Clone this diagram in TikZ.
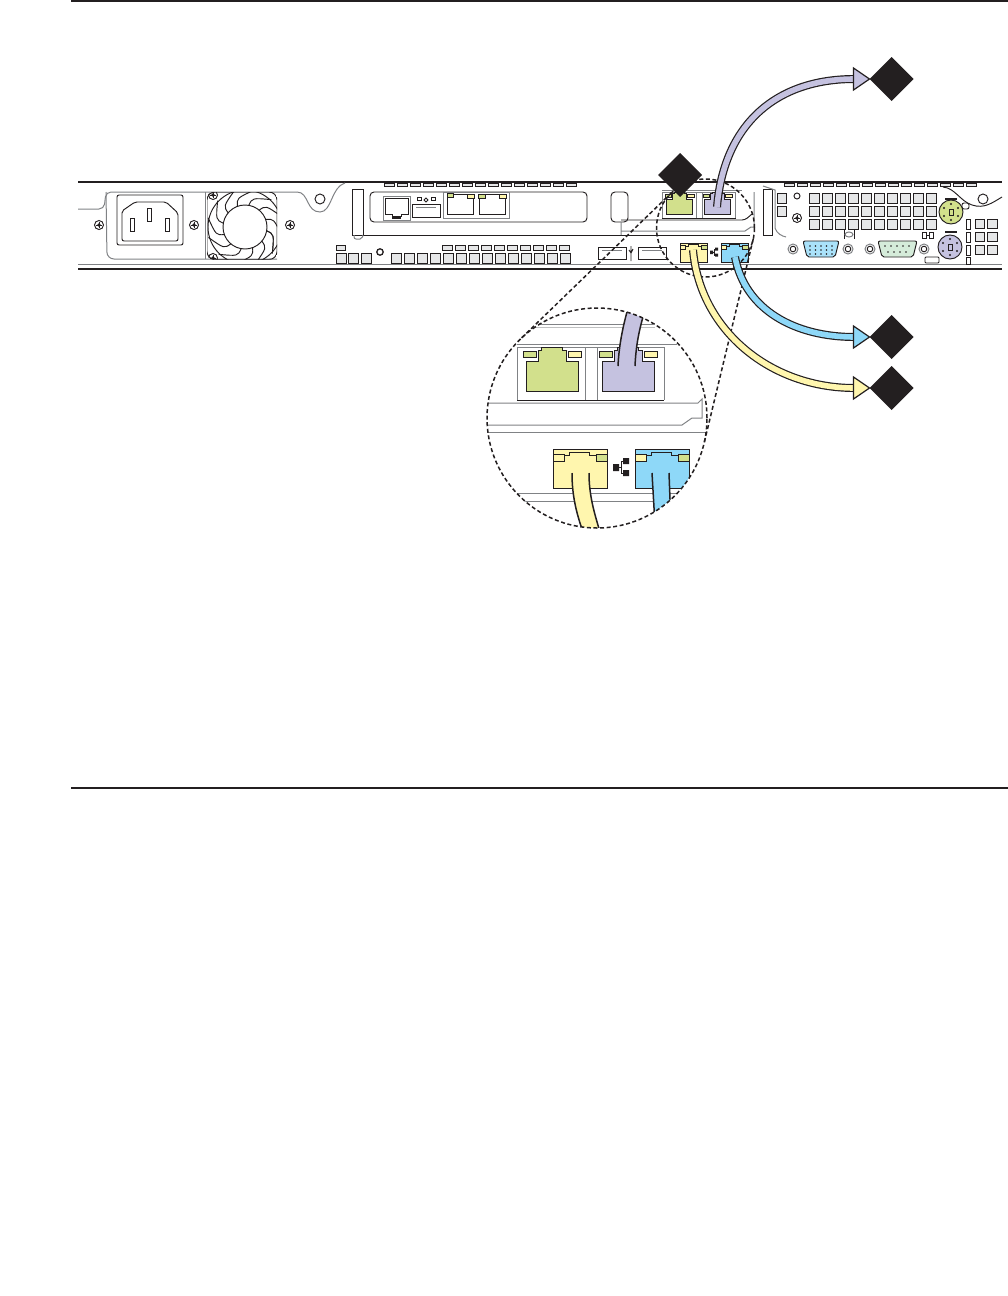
\documentclass[tikz,border=0pt]{standalone}
\usepackage{tikz}
\usetikzlibrary{shapes.geometric,arrows.meta,positioning,calc}

\definecolor{inkblack}{HTML}{231F20}
\definecolor{ventgray}{HTML}{E6E7E8}
\definecolor{edgegray}{HTML}{808285}
\definecolor{portgreen}{HTML}{D2E08C}
\definecolor{portpurple}{HTML}{C5C2E0}
\definecolor{portyellow}{HTML}{FFF6AE}
\definecolor{portblue}{HTML}{8ED8F8}

\tikzset{
  inkline/.style={draw=inkblack,line width=.95pt},
  greyline/.style={draw=edgegray,line width=1pt},
  vent/.style={draw=inkblack,fill=ventgray,line width=.95pt},
  flag/.style={diamond,fill=inkblack,inner sep=0pt,outer sep=0pt,aspect=1,minimum width=44pt,minimum height=44pt},
  lens/.style={circle,draw=inkblack,dash pattern=on 4pt off 2.6pt,line width=1.5pt,inner sep=0pt,outer sep=0pt},
  lensline/.style={draw=inkblack,dash pattern=on 4pt off 2.6pt,line width=1.5pt},
  cable/.style={draw=inkblack,line width=1.2pt,double=#1,double distance=5.6pt},
  cablehead/.style={draw=inkblack,fill=#1,line width=1.2pt,line join=miter},
  led/.style={draw=inkblack,fill=#1,line width=.8pt}
}

% one screw of the chassis
\newcommand{\chassisscrew}[2]{
  \draw[inkline] (#1,#2) circle (4.5);
  \fill[inkblack] (#1,#2) circle (1.8);
  \draw[inkblack,line width=.5pt] (#1-3.2,#2) -- (#1+3.2,#2) (#1,#2-3.2) -- (#1,#2+3.2);
}
% jack post beside a d-sub
\newcommand{\jackpost}[2]{
  \draw[greyline] (#1,#2) circle (5);
  \draw[inkline] (#1,#2) circle (2.8);
}
% upper port, left edge at #1
\newcommand{\upperport}[2]{
  \draw[inkline,fill=#2] (#1,391) -- (#1,361) -- (#1+12,361) -- (#1+12,350) -- (#1+15,350) -- (#1+15,347)
    -- (#1+36,347) -- (#1+36,350) -- (#1+40,350) -- (#1+40,361) -- (#1+52,361) -- (#1+52,391) -- cycle;
  \draw[led=portgreen] (#1-3,351) rectangle (#1+10,357);
  \draw[led=portyellow] (#1+42,351) rectangle (#1+55,357);
}
% lower port, left edge at #1
\newcommand{\lowerport}[2]{
  \draw[inkline,fill=#2] (#1,449) rectangle (#1+54,488);
  \draw[inkline] (#1,455) -- (#1+16,455) -- (#1+16,452) -- (#1+36,452) -- (#1+36,455) -- (#1+54,455);
  \draw[led=portyellow] (#1,454) rectangle (#1+11,461);
  \draw[led=portgreen] (#1+43,454) rectangle (#1+54,461);
}
% everything the lens enlarges, at the enlarged size
\newcommand{\portgroup}{
  \draw[greyline] (517,347) -- (517,400) (585,347) -- (585,400) (597,347) -- (597,400) (664,347) -- (664,400);
  \draw[greyline] (517,344) -- (677,344) (517,347) -- (664,347);
  \draw[inkline] (517,400) -- (664,400);
  \upperport{526}{portgreen}
  \upperport{602}{portpurple}
  \lowerport{553}{portyellow}
  \lowerport{635}{portblue}
  \fill[inkblack] (613,464) rectangle (619,471) (623,458) rectangle (629,464) (623,470) rectangle (629,476);
  \draw[inkblack,line width=.7pt] (619,467) -- (621,467) (623,461) -- (621,461) -- (621,473) -- (623,473);
}

\begin{document}
\begin{tikzpicture}[x=1pt,y=-1pt]
  \useasboundingbox (0,0) rectangle (1008,1296);

  % page rules
  \draw[inkblack,line width=1.6pt] (71,.8) -- (1008,.8);
  \draw[inkblack,line width=1.6pt] (71,788) -- (1008,788);

  % chassis edges
  \draw[inkblack,line width=2pt] (78,182) -- (1002,182);
  \draw[inkblack,line width=2pt] (78,269) -- (1002,269);
  \draw[greyline] (78,264) -- (1002,264);
  \draw[inkline] (362,235) -- (750,235);

  % power supply
  \draw[greyline,rounded corners=5] (78,209) -- (104,209) -- (106,192) -- (297,192);
  \draw[greyline] (297,192) .. controls (309,192) and (306,212) .. (320,212) .. controls (332,212) and (331,187) .. (345,183);
  \draw[greyline,rounded corners=7] (106,192) -- (107,259) -- (277,259);
  \draw[inkline] (320,199) circle (5);
  \draw[inkline,rounded corners=2] (117,195) rectangle (183,245);
  \draw[inkline,rounded corners=2] (122,211) -- (135,202) -- (166,202) -- (178,213) -- (178,241) -- (122,241) -- cycle;
  \draw[inkline] (130,218) rectangle (134,231) (147,208) rectangle (151,221) (165,218) rectangle (169,231);
  \foreach \sx in {99,194,290} {\chassisscrew{\sx}{225}}

  % fan
  \draw[greyline] (205,192) -- (205,259);
  \node[circle,inkline,fill=white,minimum size=44pt,inner sep=0pt] (fanhub) at (245,227) {};
  \begin{scope}
    \clip[rounded corners=6] (207,192) rectangle (277,259.5);
    \draw[inkline,rounded corners=8] (207,192) rectangle (277,259.5);
    \draw[inkline] (fanhub.center) circle (37);
    \foreach \a in {10,40,...,370} {
      \draw[inkline] ([shift={(\a:22)}]fanhub.center) .. controls ([shift={(\a+4:30)}]fanhub.center) .. ([shift={(\a+34:38)}]fanhub.center);
    }
    \chassisscrew{213}{195}
    \chassisscrew{213}{258}
  \end{scope}

  % left vents
  \draw[inkline,line width=1.3pt] (380,252) circle (3.2);
  \draw[vent] (336,245) rectangle (345,250);
  \foreach \vx in {336,348,361} {\draw[vent] (\vx,253) rectangle +(10,10);}
  \foreach \i in {0,...,13} {\draw[vent] (391+\i*13,253) rectangle +(10,10);}
  \foreach \i in {0,...,9} {\draw[vent] (442+\i*13,245) rectangle +(10,5);}
  \foreach \i in {0,...,14} {
    \draw[vent] (384+\i*13,183) rectangle +(10,3.5);
    \draw[vent] (784+\i*13,183) rectangle +(10,3.5);
  }

  % brackets
  \draw[inkline] (352,189) rectangle (363,235);
  \draw[greyline,rounded corners=2] (354,235) -- (354,239) -- (362,239) -- (363,235);
  \draw[inkline,fill=white] (763,189) rectangle (772,235);
  \draw[greyline] (763,186) -- (775,190) -- (775,228) .. controls (777,234) and (782,236) .. (786,237);
  \draw[vent] (777,193) rectangle (786,203) (777,206) rectangle (786,216);

  % riser card
  \draw[inkline,rounded corners=4] (370,192) rectangle (587,222);
  \draw[greyline,fill=white] (383,196) rectangle (410,220);
  \draw[inkline] (385,198) -- (408,198) -- (408,214) -- (401,214) -- (401,216) -- (392,216) -- (392,214) -- (385,214) -- cycle;
  \draw[inkblack,line width=1.2pt] (392,218) -- (401,218);
  \draw[inkline] (417,197) rectangle (421,200) (431,197) rectangle (435,200);
  \draw[inkline] (426,198) -- (428,200) -- (426,202) -- (424,200) -- cycle;
  \draw[inkline] (412,217) rectangle (440,204);
  \draw[greyline] (416,207) -- (436,207);
  \draw[greyline] (443,192) rectangle (509,218);
  \draw[inkline] (447,194) rectangle (473,214) (479,194) rectangle (505,214);
  \draw[led=portgreen] (447,193) rectangle (453,197);
  \draw[led=portyellow] (467,194) rectangle (474,198);
  \draw[led=portgreen] (478,194) rectangle (485,198);
  \draw[led=portyellow] (499,194) rectangle (506,198);

  % small card and its edge
  \draw[inkline,rounded corners=4] (628,192) -- (611,192) -- (611,222) -- (628,222) -- cycle;
  \draw[greyline] (621,222) -- (621,235) (621,231) -- (745,231) -- (751,227) -- (754,227) -- (754,192);
  \draw[inkline,rounded corners=3] (621,220) -- (745,220) -- (752,214);

  % usb
  \draw[inkline] (598,247) rectangle (626,259) (638,247) rectangle (666,259);
  \draw[greyline] (602,250) -- (622,250) (642,250) -- (662,250);
  \draw[inkline] (631,246) -- (631,261) (629,250) -- (631,253) -- (633,249);

  % ports at their true size
  \begin{scope}[shift={(403.5,18.5)},x=.5pt,y=-.5pt]
    \portgroup
  \end{scope}

  % right vents
  \draw[inkline] (797,196) circle (3);
  \chassisscrew{797}{218}
  \foreach \r in {193,206,219} {
    \foreach \i in {0,...,9} {\draw[vent] (809+\i*13,\r) rectangle +(10,10);}
  }
  \foreach \r in {219,232,245} {
    \draw[vent] (975,\r) rectangle +(9,9.5);
    \draw[vent] (987,\r) rectangle +(10,9.5);
  }
  \foreach \r in {219,232,245,257} {\draw[inkline] (966,\r) rectangle +(4,\ifnum\r=257 7\else 10\fi);}
  \draw[inkline] (943,187) .. controls (955,188) and (960,201) .. (972,205) .. controls (984,209) and (992,203) .. (1002,197);
  \draw[inkline] (983,199) circle (5);

  % d-sub connectors
  \draw[inkline,fill=portblue!75,rounded corners=2] (803,241) -- (839,241) -- (835,257) -- (807,257) -- cycle;
  \draw[inkline,fill=portblue!45!portgreen!55,rounded corners=2] (878,241) -- (917,241) -- (913,257) -- (882,257) -- cycle;
  \foreach \i in {0,...,4} {
    \fill[inkblack] (810+\i*5.5,246) circle (.8) (810+\i*5.5,250) circle (.8) (810+\i*5.5,254) circle (.8);
    \fill[inkblack] (885+\i*6,246) circle (.9);
  }
  \foreach \i in {0,...,3} {\fill[inkblack] (888+\i*6,252) circle (.9);}
  \foreach \sx in {793,848,870,924} {\jackpost{\sx}{249}}
  \draw[inkline] (844,230) -- (844,239) (854,230) -- (854,239);
  \draw[greyline] (849,234.5) ellipse (4 and 2.5);
  \draw[inkline] (922,232) rectangle (926,238) (929,232) rectangle (933,238);
  \draw[inkline] (926,235) -- (929,235);
  \draw[inkline,rounded corners=1] (925,257) rectangle (939,263);

  % ps/2 connectors
  \node[circle,inkline,fill=portgreen,minimum size=24pt,inner sep=0pt] (kbport) at (951,212) {};
  \node[circle,inkline,fill=portpurple,minimum size=24pt,inner sep=0pt] (mouseport) at (950,247) {};
  \foreach \a in {0,60,...,300} {
    \fill[inkblack] ([shift={(\a+30:8)}]kbport.center) circle (1.1);
    \fill[inkblack] ([shift={(\a+30:8)}]mouseport.center) circle (1.1);
  }
  \draw[inkline] (949,209) rectangle (953,215) (948,244) rectangle (952,250);
  \draw[inkblack,line width=1.4pt] (945,199) -- (957,199) (945,232) -- (957,232);
  \draw[inkline,rounded corners=2] (962,203) rectangle (969,209);

  % enlarged view
  \node[circle,fill=white,minimum size=220pt,inner sep=0pt,outer sep=0pt] (lensfill) at (597,418) {};
  \begin{scope}
    \clip (597,418) circle (110);
    \draw[greyline] (480,324) -- (653,324);
    \draw[greyline,draw opacity=.5] (480,327) -- (655,327);
    \portgroup
    \draw[greyline] (480,403) -- (698,403) -- (702,399) -- (702,418) -- (692,418) -- (682,425) -- (480,425);
    \draw[greyline] (480,432) -- (710,432);
    \draw[greyline] (480,493) -- (710,493) (480,501) -- (710,501);
    % cables in the enlarged view
    \fill[portpurple] (629,305) .. controls (623,325) and (619,345) .. (618,366) -- (635,366) .. controls (636,345) and (639,330) .. (645,310) -- cycle;
    \draw[inkblack,line width=1.5pt] (629,305) .. controls (623,325) and (619,345) .. (618,366);
    \draw[inkblack,line width=1.5pt] (645,310) .. controls (639,330) and (636,345) .. (635,366);
    \fill[portyellow] (572,473) .. controls (572,495) and (576,512) .. (583,532) -- (600,532) .. controls (594,512) and (589,495) .. (589,473) -- cycle;
    \draw[inkblack,line width=1.5pt] (572,473) .. controls (572,495) and (576,512) .. (583,532);
    \draw[inkblack,line width=1.5pt] (589,473) .. controls (589,495) and (594,512) .. (600,532);
    \fill[portblue] (652,473) -- (655,525) -- (672,525) -- (669,473) -- cycle;
    \draw[inkblack,line width=1.5pt] (652,473) -- (655,525);
    \draw[inkblack,line width=1.5pt] (669,473) -- (671,525);
  \end{scope}

  % lenses
  \node[lens,minimum size=220pt] (lensbig) at (597,418) {};
  \node[lens,minimum size=98pt] (lenssmall) at (705.5,228) {};
  \draw[lensline] (lenssmall.134) -- (lensbig.134);
  \draw[lensline] (lenssmall.-13.5) -- (lensbig.-13.5);

  % flags
  \node[flag] (flagtop) at (891.5,79) {};
  \node[flag] (flagblue) at (891.5,337) {};
  \node[flag] (flagyellow) at (891.5,388) {};
  \node[flag] (flagport) at (680,175) {};

  % cables to the flags
  \coordinate (startpurple) at (717,207);
  \coordinate (startblue) at (735,257);
  \coordinate (startyellow) at (693,250);
  \coordinate (endpurple) at ([xshift=-15pt]flagtop.west);
  \coordinate (endblue) at ([xshift=-15pt]flagblue.west);
  \coordinate (endyellow) at ([xshift=-15pt]flagyellow.west);
  \draw[cable=portpurple] (startpurple) .. controls (724,125) and (775,79) .. (endpurple);
  \draw[cable=portblue] (startblue) .. controls (745,310) and (795,337) .. (endblue);
  \draw[cable=portyellow] (startyellow) .. controls (700,330) and (770,388) .. (endyellow);
  \draw[cablehead=portpurple] (flagtop.west) -- ++(-16,-11) -- ++(0,22) -- cycle;
  \draw[cablehead=portblue] (flagblue.west) -- ++(-16,-11) -- ++(0,22) -- cycle;
  \draw[cablehead=portyellow] (flagyellow.west) -- ++(-16,-11) -- ++(0,22) -- cycle;
\end{tikzpicture}
\end{document}
